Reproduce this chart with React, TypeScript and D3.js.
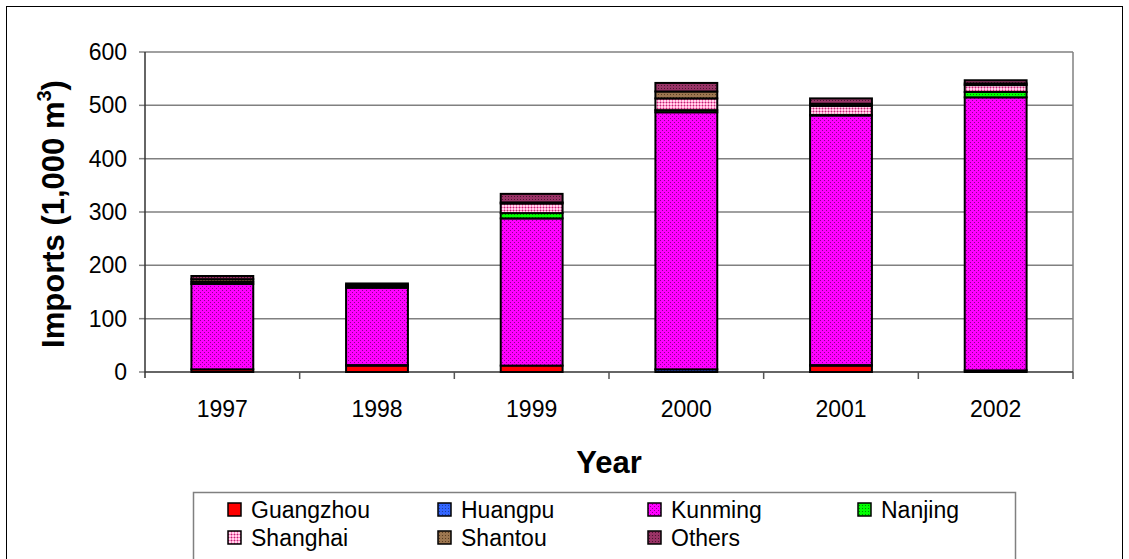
import React from "react";
import * as d3 from "d3";

const years = ["1997", "1998", "1999", "2000", "2001", "2002"];
const seriesNames = ["Guangzhou", "Huangpu", "Kunming", "Nanjing", "Shanghai", "Shantou", "Others"];
const guangzhou = [5, 12, 12, 0, 12, 3];
const huangpu = [0, 1, 0, 5, 1, 0];
const kunming = [160, 145, 276, 482, 468, 512];
const nanjing = [0, 0, 10, 4, 1, 10];
const shanghai = [4, 3, 18, 22, 17, 13];
const shantou = [5, 2, 2, 13, 4, 3];
const others = [6, 3, 16, 16, 10, 6];
const yTicks = [0, 100, 200, 300, 400, 500, 600];

const seriesValues = [guangzhou, huangpu, kunming, nanjing, shanghai, shantou, others];
const fills = ["#FF0000", "url(#pHuangpu)", "url(#pKunming)", "url(#pNanjing)", "url(#pShanghai)", "url(#pShantou)", "url(#pOthers)"];

export default function App() {
  const W = 1129, H = 559;
  const left = 145, right = 1073, top = 52, bottom = 372;
  const x = d3.scaleBand<string>().domain(years).range([left, right]).paddingInner(0.6).paddingOuter(0.3);
  const xb = d3.scaleBand<string>().domain(years).range([left, right]);
  const y = d3.scaleLinear().domain([0, 600]).range([bottom, top]);
  const rows = years.map((yr, i) => {
    const o: any = { year: yr };
    seriesNames.forEach((s, k) => (o[s] = seriesValues[k][i]));
    return o;
  });
  const stacked = d3.stack<any>().keys(seriesNames)(rows);
  const font = "Arial, 'Liberation Sans', sans-serif";
  const legendCols = [228, 438, 648, 858];
  return (
    <svg width={W} height={H} style={{ position: "absolute", left: 0, top: 0 }} fontFamily={font}>
      <defs>
        <pattern id="pKunming" width="4" height="4" patternUnits="userSpaceOnUse">
          <rect width="4" height="4" fill="#FF00FF" />
          <rect x="0" y="0" width="1" height="1" fill="#8A008A" />
          <rect x="2" y="2" width="1" height="1" fill="#8A008A" />
        </pattern>
        <pattern id="pHuangpu" width="3" height="3" patternUnits="userSpaceOnUse">
          <rect width="3" height="3" fill="#3366FF" />
          <rect x="1" y="1" width="1" height="1" fill="#1F3FA0" />
        </pattern>
        <pattern id="pNanjing" width="3" height="3" patternUnits="userSpaceOnUse">
          <rect width="3" height="3" fill="#00FF00" />
          <rect x="1" y="1" width="1" height="1" fill="#008800" />
        </pattern>
        <pattern id="pShanghai" width="3" height="3" patternUnits="userSpaceOnUse">
          <rect width="3" height="3" fill="#FFD6EC" />
          <rect x="0" y="0" width="1" height="3" fill="#FF77BB" />
          <rect x="0" y="0" width="3" height="1" fill="#FF77BB" />
          <rect x="0" y="0" width="1" height="1" fill="#A03A70" />
        </pattern>
        <pattern id="pShantou" width="3" height="3" patternUnits="userSpaceOnUse">
          <rect width="3" height="3" fill="#9C7650" />
          <rect x="1" y="1" width="1" height="1" fill="#5A3E22" />
        </pattern>
        <pattern id="pOthers" width="3" height="3" patternUnits="userSpaceOnUse">
          <rect width="3" height="3" fill="#993366" />
          <rect x="1" y="1" width="1" height="1" fill="#4A1530" />
        </pattern>
      </defs>
      <rect x={6.5} y={6.5} width={1116} height={600} fill="white" stroke="#000" strokeWidth={1} />
      {yTicks.map((t) => (
        <g key={t}>
          {t > 0 && <line x1={left} x2={right} y1={y(t)} y2={y(t)} stroke="#808080" strokeWidth={1.5} />}
          <line x1={left - 6} x2={left} y1={y(t)} y2={y(t)} stroke="#808080" strokeWidth={1.5} />
          <text x={127} y={y(t)} dy="0.35em" textAnchor="end" fontSize={23} fill="#000">{t}</text>
        </g>
      ))}
      <line x1={right} x2={right} y1={top} y2={bottom} stroke="#808080" strokeWidth={1.5} />
      <line x1={left} x2={left} y1={top} y2={bottom + 6} stroke="#333" strokeWidth={1.5} />
      <line x1={left} x2={right} y1={bottom} y2={bottom} stroke="#333" strokeWidth={1.5} />
      {years.map((yr) => (
        <line key={yr} x1={(xb(yr) as number) + xb.bandwidth()} x2={(xb(yr) as number) + xb.bandwidth()} y1={bottom} y2={bottom + 7} stroke="#555" strokeWidth={1.5} />
      ))}
      {stacked.map((s, k) =>
        s.map((d, i) => {
          const h = y(d[0]) - y(d[1]);
          if (h <= 0) return null;
          return (
            <rect key={k + "-" + i} x={x(years[i])} y={y(d[1])} width={x.bandwidth()} height={h} fill={fills[k]} stroke="#000" strokeWidth={2} />
          );
        })
      )}
      {years.map((yr) => (
        <text key={yr} x={(xb(yr) as number) + xb.bandwidth() / 2} y={417} textAnchor="middle" fontSize={23}>{yr}</text>
      ))}
      <text x={609} y={473} textAnchor="middle" fontSize={31} fontWeight="bold">Year</text>
      <text transform={`translate(64, ${(top + bottom) / 2 + 2}) rotate(-90)`} textAnchor="middle" fontSize={31} fontWeight="bold">
        Imports (1,000 m<tspan dy="-13" fontSize={20}>3</tspan><tspan dy="13">)</tspan>
      </text>
      <rect x={193.5} y={492.5} width={822} height={100} fill="white" stroke="#808080" strokeWidth={1.5} />
      {seriesNames.map((s, k) => {
        const col = k % 4, row = Math.floor(k / 4);
        const sx = legendCols[col];
        const sy = 503 + row * 28;
        return (
          <g key={s}>
            <rect x={sx} y={sy} width={13} height={13} fill={fills[k]} stroke="#000" strokeWidth={1.5} />
            <text x={sx + 23} y={sy + 7} dy="0.35em" fontSize={23}>{s}</text>
          </g>
        );
      })}
    </svg>
  );
}
